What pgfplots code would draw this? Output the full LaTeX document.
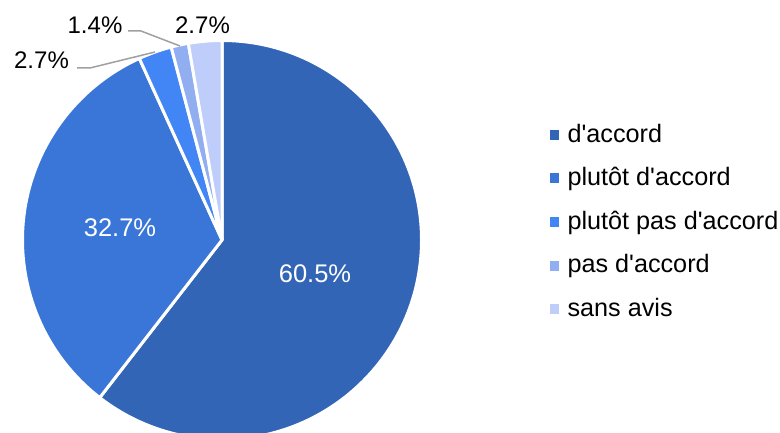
\documentclass[border=0pt]{standalone}
\usepackage{pgfplots}
\usepackage{pgfplotstable}
\pgfplotsset{compat=1.18}
\usepackage{fontspec}
\setmainfont{Liberation Sans}[Ligatures=TeXOff]
\definecolor{c0}{HTML}{3265B6}
\definecolor{c1}{HTML}{3A76D8}
\definecolor{c2}{HTML}{4285F4}
\definecolor{c3}{HTML}{91AEF1}
\definecolor{c4}{HTML}{BECDFA}
\definecolor{leader}{HTML}{A0A0A0}
\pgfplotstableread{
value
60.5
32.7
2.7
1.4
2.7
}\piedata
\newcommand\lfont{\fontsize{25.2bp}{28bp}\selectfont}
\newcommand\ofont{\fontsize{24bp}{28bp}\selectfont}
\newcommand\ifont{\fontsize{25.5bp}{28bp}\selectfont}
\begin{document}
\begin{tikzpicture}
\gdef\cum{90}
\foreach \i in {0,...,4}{
  \pgfplotstablegetelem{\i}{value}\of\piedata
  \pgfmathsetmacro\endang{\cum-3.6*\pgfplotsretval}
  \expandafter\xdef\csname sa\i\endcsname{\cum}
  \expandafter\xdef\csname ea\i\endcsname{\endang}
  \xdef\cum{\endang}
}
\begin{axis}[
  name=ax,
  scale only axis, width=780bp, height=432bp,
  xmin=0, xmax=780, ymin=0, ymax=432,
  hide axis, clip=true,
  legend cell align=left,
  legend style={draw=none, fill=none, inner sep=0bp, at={(axis cs:550,307)}, anchor=north west,
    font=\lfont, row sep=21.5bp, column sep=9bp,
    nodes={inner sep=0bp, text height=17bp, text depth=5bp}},
]
\pgfplotsinvokeforeach{0,...,4}{
  \fill[c#1, draw=white, line width=3bp, line join=round]
    (axis cs:222,192) -- ++(\csname sa#1\endcsname:199.5bp)
    arc[start angle=\csname sa#1\endcsname, end angle=\csname ea#1\endcsname, radius=199.5bp] -- cycle;
}
\addlegendimage{legend image code/.code={\fill[c0] (0bp,-3bp) rectangle (8bp,6bp);}}
\addlegendentry{d'accord}
\addlegendimage{legend image code/.code={\fill[c1] (0bp,-3bp) rectangle (8bp,6bp);}}
\addlegendentry{plutôt d'accord}
\addlegendimage{legend image code/.code={\fill[c2] (0bp,-3bp) rectangle (8bp,6bp);}}
\addlegendentry{plutôt pas d'accord}
\addlegendimage{legend image code/.code={\fill[c3] (0bp,-3bp) rectangle (8bp,6bp);}}
\addlegendentry{pas d'accord}
\addlegendimage{legend image code/.code={\fill[c4] (0bp,-3bp) rectangle (8bp,6bp);}}
\addlegendentry{sans avis}
\draw[leader, line width=1.5bp] (axis cs:77,364) -- (axis cs:90,364) -- (axis cs:155,380);
\draw[leader, line width=1.5bp] (axis cs:128,401) -- (axis cs:141,401) -- (axis cs:180,386);
\node[font=\ifont, text=white] at (axis cs:315,158) {60.5\%};
\node[font=\ifont, text=white] at (axis cs:120,204) {32.7\%};
\node[font=\ofont] at (axis cs:41.5,372) {2.7\%};
\node[font=\ofont] at (axis cs:95,407) {1.4\%};
\node[font=\ofont] at (axis cs:202.5,407) {2.7\%};
\end{axis}
\pgfresetboundingbox
\path[use as bounding box] (ax.south west) rectangle (ax.north east);
\end{tikzpicture}
\end{document}
